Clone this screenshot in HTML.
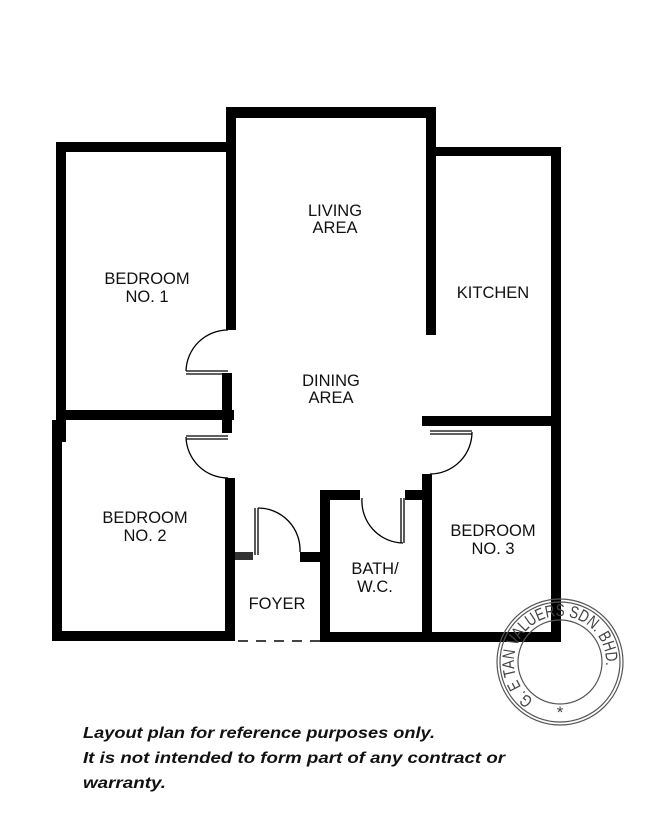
<!DOCTYPE html>
<html><head><meta charset="utf-8"><style>
html,body{margin:0;padding:0;background:#fff}
svg{display:block}
.l{font-family:"Liberation Sans",sans-serif;font-size:16.5px;fill:#111;text-anchor:middle}
.c{font-family:"Liberation Sans",sans-serif;font-size:16px;font-weight:bold;font-style:italic;fill:#111}
.s{font-family:"Liberation Sans",sans-serif;font-size:17px;fill:#444}
</style></head><body>
<svg width="667" height="837" viewBox="0 0 667 837" xmlns="http://www.w3.org/2000/svg">
<rect width="667" height="837" fill="#fff"/>
<g fill="#000">
<rect x="226" y="107" width="210" height="11"/>
<rect x="226" y="107" width="10" height="223"/>
<rect x="426" y="107" width="10" height="228"/>
<rect x="56" y="142" width="174" height="10"/>
<rect x="56" y="142" width="10" height="300"/>
<rect x="56" y="410" width="178" height="10"/>
<rect x="222" y="373" width="10" height="60"/>
<rect x="52" y="420" width="10" height="221"/>
<rect x="225" y="478" width="10" height="163"/>
<rect x="52" y="631" width="183" height="10"/>
<rect x="235" y="552" width="18" height="8" fill="#333"/>
<rect x="426" y="147" width="135" height="9"/>
<rect x="551" y="147" width="10" height="495"/>
<rect x="422" y="416" width="139" height="10"/>
<rect x="422" y="474" width="10" height="168"/>
<rect x="320" y="490" width="10" height="152"/>
<rect x="320" y="490" width="40" height="10"/>
<rect x="405" y="490" width="20" height="10"/>
<rect x="320" y="632" width="241" height="10"/>
<rect x="300" y="552" width="22" height="10"/>
</g>
<g fill="none" stroke="#000" stroke-width="1.3">
<path d="M228 330 A42 42 0 0 0 186 371"/>
<path d="M186 371 H228 M186 374 H228"/>
<path d="M186 436 H228 M186 439 H228"/>
<path d="M186 437 A42 42 0 0 0 228 478"/>
<path d="M430 431 H472 M430 434 H472"/>
<path d="M472 432 A42 42 0 0 1 430 474"/>
<path d="M401 498 V543 M404 498 V543"/>
<path d="M362 498 A42 42 0 0 0 403 543"/>
<path d="M255 508 V555 M258 508 V555"/>
<path d="M258 508 A42 42 0 0 1 300 552"/>
</g>
<path d="M238 641 H320" stroke="#444" stroke-width="2" stroke-dasharray="10 8"/>
<text class="l" x="335" y="216">LIVING</text>
<text class="l" x="335" y="233">AREA</text>
<text class="l" x="147" y="284">BEDROOM</text>
<text class="l" x="147" y="302">NO. 1</text>
<text class="l" x="493" y="298">KITCHEN</text>
<text class="l" x="331" y="386">DINING</text>
<text class="l" x="331" y="403">AREA</text>
<text class="l" x="145" y="523">BEDROOM</text>
<text class="l" x="145" y="541">NO. 2</text>
<text class="l" x="493" y="536">BEDROOM</text>
<text class="l" x="493" y="554">NO. 3</text>
<text class="l" x="375" y="574">BATH/</text>
<text class="l" x="375" y="592">W.C.</text>
<text class="l" x="277" y="609">FOYER</text>
<g fill="none" stroke="#555" stroke-width="1.2">
<circle cx="560" cy="662" r="63"/><circle cx="560" cy="662" r="60"/>
<circle cx="560" cy="662" r="42"/>
</g>
<defs><path id="sp" d="M533.6 699.7 A46 46 0 1 1 586.4 699.7"/></defs>
<text class="s"><textPath href="#sp" textLength="192" lengthAdjust="spacingAndGlyphs">G. E TAN VALUERS SDN. BHD.</textPath></text>
<text x="560" y="718" class="s" text-anchor="middle" font-size="11">*</text>
<text class="c" x="83" y="738" textLength="352" lengthAdjust="spacingAndGlyphs">Layout plan for reference purposes only.</text>
<text class="c" x="83" y="763" textLength="422" lengthAdjust="spacingAndGlyphs">It is not intended to form part of any contract or</text>
<text class="c" x="83" y="788" textLength="83" lengthAdjust="spacingAndGlyphs">warranty.</text>
</svg>
</body></html>
